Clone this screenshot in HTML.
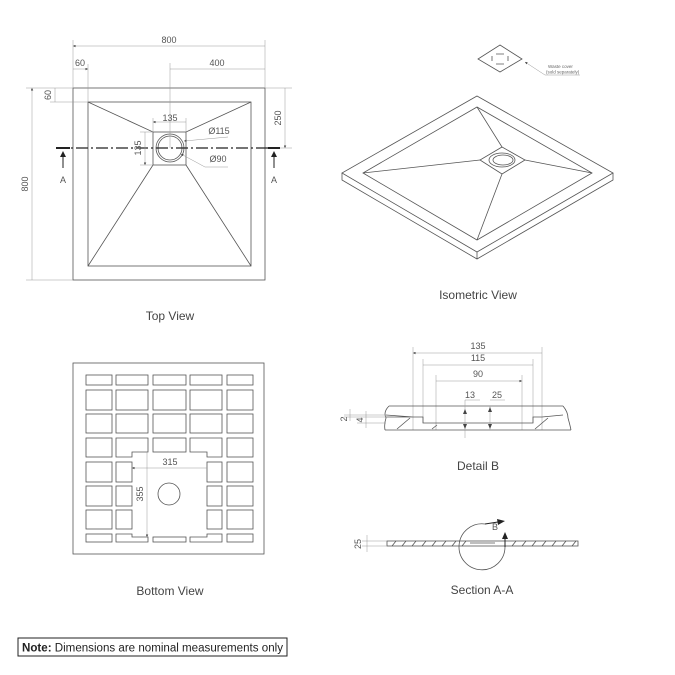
<!DOCTYPE html>
<html><head><meta charset="utf-8"><style>
html,body{margin:0;padding:0;background:#fff;}
svg{display:block;font-family:"Liberation Sans",sans-serif;}
.l{stroke:#555;stroke-width:0.8;fill:none}
.t{stroke:#999;stroke-width:0.5;fill:none}
.d{fill:#555;font-size:9px;text-anchor:middle}
.h{fill:#444;font-size:12px;text-anchor:middle}
</style></head><body>
<svg width="675" height="675" viewBox="0 0 675 675">
<defs>
<marker id="a" viewBox="0 0 6 6" refX="6" refY="3" markerWidth="5" markerHeight="5" orient="auto-start-reverse"><path d="M0,0L6,3L0,6z" fill="#444"/></marker>
</defs>
<!-- TOP VIEW -->
<rect class="l" x="73" y="88" width="192" height="192"/>
<rect class="l" x="88" y="102" width="163" height="164"/>
<rect class="l" x="153" y="132" width="33" height="33"/>
<circle class="l" cx="170" cy="148" r="14"/>
<circle class="l" cx="170" cy="148" r="12"/>
<path class="l" d="M88,102L153,132M251,102L186,132M88,266L153,165M251,266L186,165"/>
<path d="M56,148H280" stroke="#222" stroke-width="1.3" stroke-dasharray="12,3,2,3"/>
<path d="M56,148H70M268,148H280" stroke="#222" stroke-width="2"/>
<path d="M63,168V157M274,168V157" stroke="#222" stroke-width="1"/>
<path d="M60,157L63,151L66,157Z M271,157L274,151L277,157Z" fill="#222"/>
<text class="d" x="63" y="183">A</text><text class="d" x="274" y="183">A</text>
<!-- dims -->
<path class="t" d="M73,40V88M265,40V88M88,64V102M170,63V148"/>
<path class="t" d="M73,46H265M170,69H265M73,69H88" marker-start="url(#a)" marker-end="url(#a)"/>
<text class="d" x="169" y="43">800</text><text class="d" x="80" y="66">60</text><text class="d" x="217" y="66">400</text>
<path class="t" d="M26,88H73M26,280H73M50,102H88M265,88H292M280,148H292"/>
<path class="t" d="M32,88V280M55,88V102M285,88V148" marker-start="url(#a)" marker-end="url(#a)"/>
<text class="d" transform="translate(28,184) rotate(-90)">800</text>
<text class="d" transform="translate(51,95) rotate(-90)">60</text>
<text class="d" transform="translate(281,118) rotate(-90)">250</text>
<path class="t" d="M153,118V132M186,118V132M140,132H153M140,165H153"/>
<path class="t" d="M153,122H186M145,132V165" marker-start="url(#a)" marker-end="url(#a)"/>
<text class="d" x="170" y="121">135</text>
<text class="d" transform="translate(141,148) rotate(-90)">135</text>
<path class="t" d="M228,137L184,141" marker-end="url(#a)"/><path class="t" d="M228,167H205L181,154" marker-end="url(#a)"/>
<text class="d" x="219" y="134">Ø115</text><text class="d" x="218" y="162">Ø90</text>
<text class="h" x="170" y="320">Top View</text>

<!-- ISO -->
<path class="l" d="M477,96L613,173L477,252L342,173Z"/>
<path class="l" d="M342,173V180L477,259L613,180V173M477,252V259"/>
<path class="l" d="M477,107L592,173L477,240L363,173Z"/>
<path class="l" d="M502,147L525,160L502,174L480,160Z"/>
<ellipse class="l" cx="502" cy="160" rx="13" ry="7"/><ellipse class="l" cx="503" cy="160" rx="10" ry="5"/>
<path class="l" d="M477,107L502,147M592,173L525,160M477,240L502,174M363,173L480,160"/>
<path class="l" d="M500,45L522,59L500,72L478,59Z"/>
<path class="l" d="M492,56V61M508,56V61M496,54H504M496,64H504" stroke-width="1"/>
<path class="t" d="M580,75H545L525,62" marker-end="url(#a)"/>
<text x="548" y="68" font-size="4.5" fill="#666">Waste cover</text>
<text x="546" y="73.5" font-size="4.5" fill="#666">(sold separately)</text>
<text class="h" x="478" y="299">Isometric View</text>

<!-- BOTTOM VIEW -->
<rect class="l" x="73" y="363" width="191" height="191"/>
<g class="l">
<rect x="86" y="375" width="26" height="10"/><rect x="116" y="375" width="32" height="10"/><rect x="153" y="375" width="33" height="10"/><rect x="190" y="375" width="32" height="10"/><rect x="227" y="375" width="26" height="10"/>
<rect x="86" y="390" width="26" height="20"/><rect x="116" y="390" width="32" height="20"/><rect x="153" y="390" width="33" height="20"/><rect x="190" y="390" width="32" height="20"/><rect x="227" y="390" width="26" height="20"/>
<rect x="86" y="414" width="26" height="19"/><rect x="116" y="414" width="32" height="19"/><rect x="153" y="414" width="33" height="19"/><rect x="190" y="414" width="32" height="19"/><rect x="227" y="414" width="26" height="19"/>
<rect x="86" y="438" width="26" height="19"/><path d="M116,438H148V452H132V457H116Z"/><rect x="153" y="438" width="33" height="14"/><path d="M190,438H222V457H207V452H190Z"/><rect x="227" y="438" width="26" height="19"/>
<rect x="86" y="462" width="26" height="20"/><rect x="116" y="462" width="16" height="20"/><rect x="207" y="462" width="15" height="20"/><rect x="227" y="462" width="26" height="20"/>
<rect x="86" y="486" width="26" height="20"/><rect x="116" y="486" width="16" height="20"/><rect x="207" y="486" width="15" height="20"/><rect x="227" y="486" width="26" height="20"/>
<rect x="86" y="510" width="26" height="19"/><rect x="116" y="510" width="16" height="19"/><rect x="207" y="510" width="15" height="19"/><rect x="227" y="510" width="26" height="19"/>
<rect x="86" y="534" width="26" height="8"/><path d="M116,534H132V537H148V542H116Z"/><rect x="153" y="537" width="33" height="5"/><path d="M190,537H207V534H222V542H190Z"/><rect x="227" y="534" width="26" height="8"/>
<circle cx="169" cy="494" r="11"/>
</g>
<path class="t" d="M132,468H207M147,452V537" marker-start="url(#a)" marker-end="url(#a)"/>
<text class="d" x="170" y="465">315</text>
<text class="d" transform="translate(143,494) rotate(-90)">355</text>
<text class="h" x="170" y="595">Bottom View</text>

<!-- DETAIL B -->
<path class="t" d="M413,347V430M542,347V430M423,359V423M533,359V423M436,375V430M522,375V430"/>
<path class="t" d="M413,353H542M423,365H533M436,381H522" marker-start="url(#a)" marker-end="url(#a)"/>
<text class="d" x="478" y="349">135</text><text class="d" x="478" y="361">115</text><text class="d" x="478" y="377">90</text>
<path class="l" d="M389,406H563M385,430H571M389,406Q383,412 386,418Q384,424 385,430M563,406Q568,412 568,418Q570,425 571,430"/>
<path class="l" d="M386,415L413,417H423V423H533V417H542L563,415M386,417H413"/>
<path class="l" d="M397,429L410,418M432,429L437,425M535,429L548,418"/>
<path class="t" d="M465,400H480M465,400V438M490,400H505M490,406V430" />
<path d="M463,414L465,409L467,414ZM463,424L465,429L467,424ZM488,412L490,407L492,412ZM488,424L490,429L492,424Z" fill="#444"/>
<text class="d" x="470" y="398">13</text><text class="d" x="497" y="398">25</text>
<path class="t" d="M344,415H386M344,417H386M357,423H386M350,409V421M366,411V428"/>
<text class="d" transform="translate(347,419) rotate(-90)">2</text>
<text class="d" transform="translate(363,420) rotate(-90)">4</text>
<text class="h" x="478" y="470">Detail B</text>

<!-- SECTION -->
<rect class="l" x="387" y="541" width="191" height="5"/>
<path class="l" d="M392,546L396,541M402,546L406,541M412,546L416,541M422,546L426,541M432,546L436,541M442,546L446,541M452,546L456,541M462,546L466,541M512,546L516,541M522,546L526,541M532,546L536,541M542,546L546,541M552,546L556,541M562,546L566,541M572,546L576,541M470,543H495"/>
<path class="l" d="M505,547A23,23 0 1 1 485,524" stroke-width="0.9"/>
<path d="M485,524L498,522" stroke="#222" stroke-width="1"/>
<path d="M497,519L505,521L498,525Z" fill="#222"/>
<path d="M505,547V538" stroke="#222" stroke-width="1"/>
<path d="M502,539L505,532L508,539Z" fill="#222"/>
<text class="d" x="495" y="530">B</text>
<path class="t" d="M362,541H387M362,546H387M367,535V552"/>
<text class="d" transform="translate(361,544) rotate(-90)">25</text>
<text class="h" x="482" y="594">Section A-A</text>

<!-- NOTE -->
<rect x="18" y="638" width="269" height="18" fill="none" stroke="#222" stroke-width="1"/>
<text x="22" y="651.5" font-size="11.5" fill="#222" textLength="261" lengthAdjust="spacingAndGlyphs"><tspan font-weight="bold">Note:</tspan> Dimensions are nominal measurements only</text>
</svg>
</body></html>
